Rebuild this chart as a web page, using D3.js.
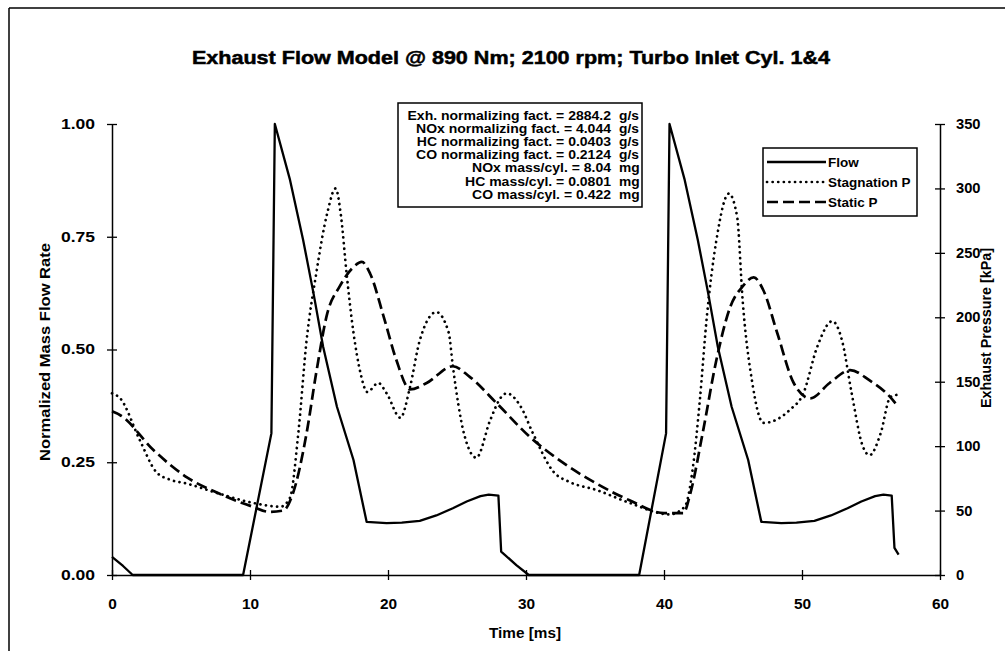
<!DOCTYPE html>
<html><head><meta charset="utf-8">
<script src="https://cdn.jsdelivr.net/npm/d3@7"></script>
<style>
html,body{margin:0;padding:0;background:#fff;}
svg{display:block;}
text{font-family:"Liberation Sans",Arial,sans-serif;font-weight:bold;fill:#000;}
</style></head>
<body><svg id="chart" width="1005" height="651"></svg>
<script>
// ---- data ----
const titleText = "Exhaust Flow Model @ 890 Nm; 2100 rpm; Turbo Inlet Cyl. 1&4";
const xLabel = "Time [ms]";
const yLeftLabel = "Normalized Mass Flow Rate";
const yRightLabel = "Exhaust Pressure [kPa]";
const xTicks = [0, 10, 20, 30, 40, 50, 60];
const yLeftTicks = [0, 0.25, 0.5, 0.75, 1.0];
const yRightTicks = [0, 50, 100, 150, 200, 250, 300, 350];
const seriesNames = ["Flow", "Stagnation P", "Static P"];

const flowT = [0,0.8,1.5,9.5,11.55,11.8,12.9,13.85,14.6,15.3,16.3,17.5,18.45,19.9,21.0,22.3,23.5,24.7,25.7,26.7,27.3,28.0,28.2,29.3,30.2,38.2,40.15,40.4,41.5,42.45,43.2,43.9,44.9,46.1,47.05,48.5,49.6,50.9,52.1,53.3,54.3,55.3,55.9,56.5,56.7,57.0];
const flowV = [0.04,0.02,0,0,0.314,1.0,0.876,0.743,0.625,0.506,0.373,0.255,0.118,0.115,0.116,0.12,0.132,0.148,0.163,0.175,0.178,0.176,0.052,0.022,0,0,0.314,1.0,0.876,0.743,0.625,0.506,0.373,0.255,0.118,0.115,0.116,0.12,0.132,0.148,0.163,0.175,0.178,0.176,0.06,0.045];

const stagT = [0,0.6,2.0,3.2,4.2,5.4,7.8,10.2,12.2,12.9,13.5,14.1,14.8,15.6,16.2,16.6,17.0,17.5,18.0,18.5,19.3,19.9,20.9,21.6,22.3,23.5,24.4,24.7,25.5,26.4,27.4,28.2,28.6,29.6,30.5,32.0,33.2,35.1,37.5,40.4,41.5,42.1,42.6,43.1,43.8,44.7,45.3,45.7,46.4,47.2,49.1,50.1,51.1,52.2,52.9,53.6,54.4,54.9,55.7,56.4,57.0];
const stagP = [141,137,105,80,74,71,63,56,53,60,110,182,234,281,300,278,234,188,157,142,149,141,122,146,182,204,188,162,110,91,120,138,141,131,110,80,72,66,56,47,53,84,136,200,260,296,278,213,149,118,128,141,177,197,182,141,100,93,110,138,140];

const statT = [0,0.6,3.0,5.4,7.8,10.2,11.4,12.4,13.1,14.1,14.8,15.6,16.5,17.5,18.1,18.7,19.7,20.6,21.6,22.8,24.7,25.9,27.9,30.3,32.7,35.1,37.5,40.0,41.4,41.9,42.8,43.8,44.8,45.7,46.5,47.2,48.2,49.4,50.6,52.0,53.5,54.9,56.4,57.0];
const statP = [127,124,97,76,63,53,49,50,63,110,157,203,224,239,243,234,200,167,144,149,162,154,133,107,87,71,58,48,48,63,110,167,208,224,231,221,188,149,137,149,159,151,138,130];

const infoLines = ["Exh. normalizing fact. = 2884.2","NOx normalizing fact. = 4.044","HC normalizing fact. = 0.0403","CO normalizing fact. = 0.2124","NOx mass/cyl. = 8.04","HC mass/cyl. = 0.0801","CO mass/cyl. = 0.422"];
const infoUnits = ["g/s","g/s","g/s","g/s","mg","mg","mg"];

// ---- layout ----
const svg = d3.select("#chart");
const L = 112, R = 940, T = 124, B = 575;
const x = d3.scaleLinear().domain([0, 60]).range([L, R]);
const yL = d3.scaleLinear().domain([0, 1]).range([B, T]);
const yR = d3.scaleLinear().domain([0, 350]).range([B, T]);

// horizontally widen text to mimic the heavy, wide original face
function widen(sel, f) {
  sel.each(function() {
    const w = this.getComputedTextLength();
    d3.select(this).attr("textLength", w * f).attr("lengthAdjust", "spacingAndGlyphs");
  });
}

// outer frame (top + left edges visible)
svg.append("line").attr("x1", 9).attr("y1", 8).attr("x2", 1005).attr("y2", 8).attr("stroke", "#000").attr("stroke-width", 1.5);
svg.append("line").attr("x1", 9).attr("y1", 8).attr("x2", 9).attr("y2", 651).attr("stroke", "#000").attr("stroke-width", 1.5);

// title
svg.append("text").attr("x", 511).attr("y", 64).attr("text-anchor", "middle")
  .attr("font-size", 18).attr("stroke", "#000").attr("stroke-width", 0.5)
  .attr("textLength", 638).attr("lengthAdjust", "spacingAndGlyphs").text(titleText);

// axes
function styleAxis(g){
  g.select(".domain").attr("stroke", "#000").attr("stroke-width", 1.5);
  g.selectAll(".tick line").attr("stroke", "#000").attr("stroke-width", 1.3);
  g.selectAll(".tick text").attr("font-size", 14).attr("font-family", "Liberation Sans, Arial, sans-serif").attr("font-weight", "bold");
}
const gx = svg.append("g").attr("transform", `translate(0,${B})`)
  .call(d3.axisBottom(x).tickValues(xTicks).tickFormat(d3.format("d")).tickSizeInner(5).tickSizeOuter(0).tickPadding(19));
styleAxis(gx);
gx.selectAll(".tick line").attr("y1", -5);
widen(gx.selectAll(".tick text"), 1.1);

const gyl = svg.append("g").attr("transform", `translate(${L},0)`)
  .call(d3.axisLeft(yL).tickValues(yLeftTicks).tickFormat(d3.format(".2f")).tickSizeInner(5).tickSizeOuter(0).tickPadding(12));
styleAxis(gyl);
gyl.selectAll(".tick line").attr("x1", 5);
widen(gyl.selectAll(".tick text"), 1.25);

const gyr = svg.append("g").attr("transform", `translate(${R},0)`)
  .call(d3.axisRight(yR).tickValues(yRightTicks).tickFormat(d3.format("d")).tickSizeInner(5).tickSizeOuter(0).tickPadding(11));
styleAxis(gyr);
gyr.selectAll(".tick line").attr("x1", -5);
widen(gyr.selectAll(".tick text"), 1.05);

// axis titles
svg.append("text").attr("x", (L + R) / 2 - 1).attr("y", 638).attr("text-anchor", "middle").attr("font-size", 14)
  .attr("textLength", 72).attr("lengthAdjust", "spacingAndGlyphs").text(xLabel);
svg.append("text").attr("transform", "translate(50,352) rotate(-90)").attr("text-anchor", "middle").attr("font-size", 14)
  .attr("textLength", 218).attr("lengthAdjust", "spacingAndGlyphs").text(yLeftLabel);
svg.append("text").attr("transform", "translate(991,328) rotate(-90)").attr("text-anchor", "middle").attr("font-size", 14)
  .attr("textLength", 160).attr("lengthAdjust", "spacingAndGlyphs").text(yRightLabel);

// series
const flowData = flowT.map((t, i) => [t, flowV[i]]);
const stagData = stagT.map((t, i) => [t, stagP[i]]);
const statData = statT.map((t, i) => [t, statP[i]]);

const lineFlow = d3.line().x(d => x(d[0])).y(d => yL(d[1]));
const lineP = d3.line().x(d => x(d[0])).y(d => yR(d[1])).curve(d3.curveMonotoneX);

svg.append("path").datum(statData).attr("d", lineP).attr("fill", "none").attr("stroke", "#000")
  .attr("stroke-width", 2.7).attr("stroke-dasharray", "11,5");
svg.append("path").datum(stagData).attr("d", lineP).attr("fill", "none").attr("stroke", "#000")
  .attr("stroke-width", 2.7).attr("stroke-dasharray", "0.1,5.5").attr("stroke-linecap", "round");
svg.append("path").datum(flowData).attr("d", lineFlow).attr("fill", "none").attr("stroke", "#000")
  .attr("stroke-width", 2.3).attr("stroke-linejoin", "round");

// info box
const ib = svg.append("g");
ib.append("rect").attr("x", 398).attr("y", 103).attr("width", 244).attr("height", 104)
  .attr("fill", "#fff").attr("stroke", "#000").attr("stroke-width", 1.5);
infoLines.forEach((s, i) => {
  const t = ib.append("text").attr("x", 611).attr("y", 120 + i * 13.1).attr("text-anchor", "end").attr("font-size", 12.5).text(s);
  widen(t, 1.12);
  const u = ib.append("text").attr("x", 619).attr("y", 120 + i * 13.1).attr("font-size", 12.5).text(infoUnits[i]);
  widen(u, 1.1);
});

// legend
const lg = svg.append("g");
lg.append("rect").attr("x", 763).attr("y", 148).attr("width", 154).attr("height", 68)
  .attr("fill", "#fff").attr("stroke", "#000").attr("stroke-width", 1.5);
const legStyles = [
  {dash: null, w: 2.3, cap: "butt"},
  {dash: "0.1,5.5", w: 2.7, cap: "round"},
  {dash: "11,5", w: 2.7, cap: "butt"}
];
seriesNames.forEach((name, i) => {
  const yy = 162 + i * 20;
  const ln = lg.append("line").attr("x1", 767).attr("x2", 826).attr("y1", yy).attr("y2", yy)
    .attr("stroke", "#000").attr("stroke-width", legStyles[i].w).attr("stroke-linecap", legStyles[i].cap);
  if (legStyles[i].dash) ln.attr("stroke-dasharray", legStyles[i].dash);
  const t = lg.append("text").attr("x", 828).attr("y", yy + 4.5).attr("font-size", 12.5).text(name);
  widen(t, 1.08);
});
</script></body></html>
